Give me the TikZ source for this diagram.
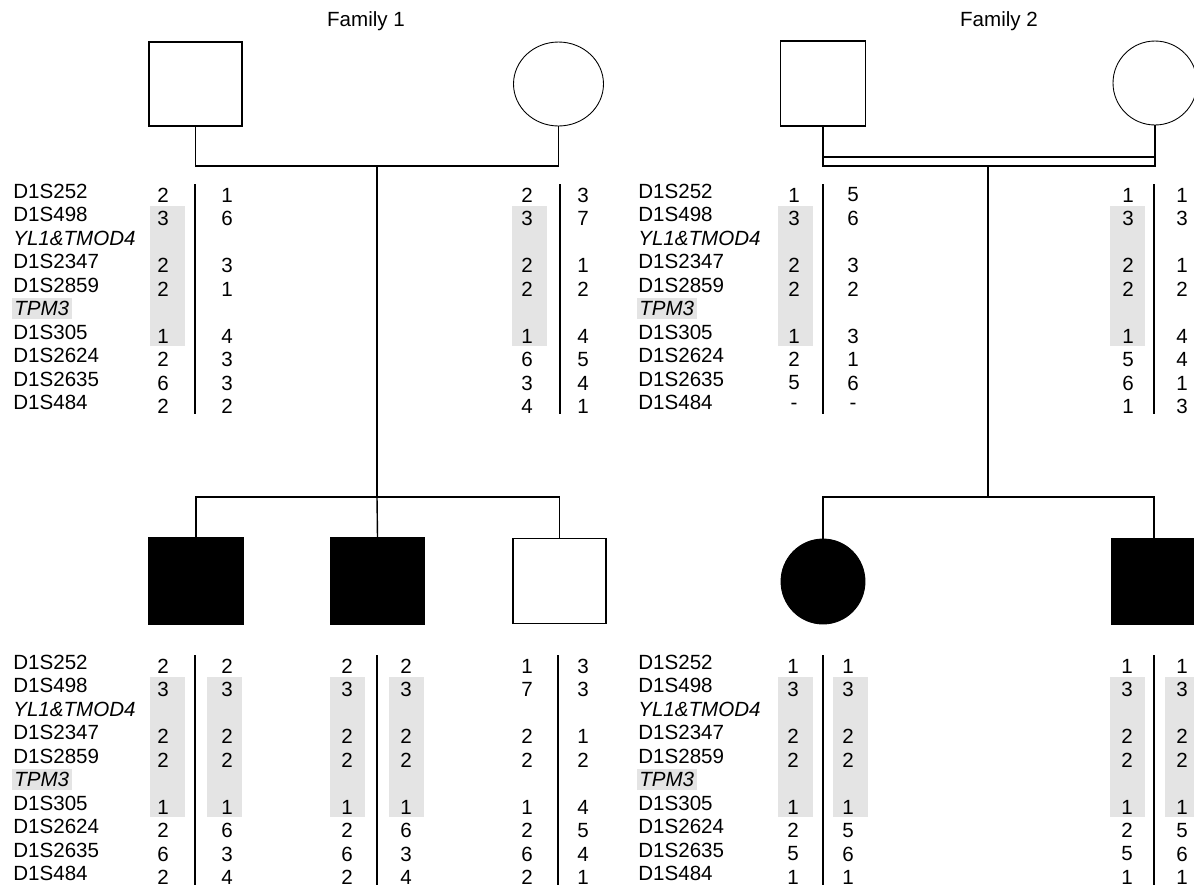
\documentclass[tikz,border=0pt]{standalone}
\usepackage{fontspec}
\setmainfont{Liberation Sans}
\usepackage{tikz}
\usetikzlibrary{positioning, shapes.geometric}
\usepackage{xcolor}
\definecolor{HlGrey}{HTML}{E4E4E4}

\newcommand{\pedfont}{\fontsize{11.7}{14}\selectfont}

\tikzset{
  male/.style={draw, rectangle, line width=0.8pt, inner sep=0pt},
  female/.style={draw, ellipse, line width=0.5pt, inner sep=0pt},
  affected/.style={fill=black},
  ped/.style={line width=0.8pt},
  sepbar/.style={line width=0.6pt},
  allele/.style={inner sep=0pt, anchor=center},
  marker/.style={inner sep=0pt, anchor=west},
  gene/.style={marker, font=\pedfont\itshape},
  hl/.style={fill=HlGrey},
}

% marker names: x, first row y, prefix
\newcommand{\markers}[3]{%
  \foreach \r/\m in {1/D1S252, 2/D1S498, 4/D1S2347, 5/D1S2859, 7/D1S305,
                     8/D1S2624, 9/D1S2635, 10/D1S484}
    \node[marker] (#3-m\r) at (#1, {#2-2+23.5*(\r-1)}) {\m};
  \node[gene] (#3-m3) at (#1, {#2-2+23.5*2}) {YL1\&TMOD4};
  \node[gene, fill=HlGrey, inner xsep=1.4pt, inner ysep=1.8pt] (#3-m6)
    at (#1-1.5, {#2-2+23.5*5}) {TPM3};
}
% haplotype pair: name, left col, bar x, right col, first row y, alleles
\newcommand{\haplo}[6]{%
  \foreach \r/\a/\b in {#6} {
    \node[allele] (#1-a\r) at (#2, {#5+2+23.5*(\r-1)}) {\a};
    \node[allele] (#1-b\r) at (#4, {#5+2+23.5*(\r-1)}) {\b};
  }
  \draw[sepbar] (#3, #5-9) -- (#3, #5+221);
}
% shared segment: left edge, first row y
\newcommand{\hlbox}[2]{\fill[hl] (#1, {#2+13}) rectangle ++(35, 139.5);}

\begin{document}
\begin{tikzpicture}[x=0.02cm, y=-0.02cm, font=\pedfont]
  \clip (0,0) rectangle (1194,890);

  % Family 1
  \node[anchor=base] (fam1) at (366,26) {Family 1};
  \node[male, minimum width=1.86cm, minimum height=1.68cm] (f1dad) at (195.5,84) {};
  \node[female, minimum width=1.8cm, minimum height=1.68cm] (f1mom) at (558.5,84) {};
  \coordinate (f1mar) at (377,166);
  \coordinate (f1sib) at (377,497);
  \node[male, affected, minimum width=1.88cm, minimum height=1.72cm] (f1c1) at (196,581) {};
  \node[male, affected, minimum width=1.88cm, minimum height=1.72cm] (f1c2) at (377.5,581) {};
  \node[male, minimum width=1.86cm, minimum height=1.7cm] (f1c3) at (559.5,581) {};
  \draw[ped] (f1dad.south) |- (f1mar) -| (f1mom.south);
  \draw[ped] (f1mar) -- (f1sib);
  \draw[ped] (f1c1.north) |- (f1sib) -| (f1c3.north);
  \draw[ped] (f1sib) -- (f1c2.north);

  % Family 2
  \node[anchor=base] (fam2) at (999,26) {Family 2};
  \node[male, minimum width=1.7cm, minimum height=1.7cm] (f2dad) at (823,83.5) {};
  \node[female, minimum width=1.68cm, minimum height=1.68cm] (f2mom) at (1155,83) {};
  \coordinate (f2mar) at (988,166);
  \coordinate (f2marup) at (988,157);
  \coordinate (f2sib) at (988,497);
  \node[female, affected, minimum width=1.68cm, minimum height=1.7cm] (f2c1) at (823,581.5) {};
  \node[male, affected, minimum width=1.7cm, minimum height=1.7cm] (f2c2) at (1154,581.5) {};
  \draw[ped] (f2dad.south) |- (f2mar) -| (f2mom.south);
  \draw[ped] (f2dad.south |- f2marup) -- (f2mom.south |- f2marup);
  \draw[ped] (f2mar) -- (f2sib);
  \draw[ped] (f2c1.north) |- (f2sib) -| (f2c2.north);

  % shared haplotype
  \hlbox{150}{193} \hlbox{512}{193} \hlbox{778}{193} \hlbox{1110}{193}
  \hlbox{150}{664} \hlbox{207}{664} \hlbox{330}{664} \hlbox{389}{664}
  \hlbox{778}{664} \hlbox{833}{664} \hlbox{1110}{664} \hlbox{1165}{664}

  % parents
  \markers{13}{193}{m1}
  \markers{638}{193}{m2}
  \haplo{h1dad}{163}{195}{227}{193}{1/2/1, 2/3/6, 4/2/3, 5/2/1, 7/1/4, 8/2/3, 9/6/3, 10/2/2}
  \haplo{h1mom}{527}{560}{583}{193}{1/2/3, 2/3/7, 4/2/1, 5/2/2, 7/1/4, 8/6/5, 9/3/4, 10/4/1}
  \haplo{h2dad}{794}{823}{853}{193}{1/1/5, 2/3/6, 4/2/3, 5/2/2, 7/1/3, 8/2/1, 9/5/6, 10/-/-}
  \haplo{h2mom}{1128}{1154}{1182}{193}{1/1/1, 2/3/3, 4/2/1, 5/2/2, 7/1/4, 8/5/4, 9/6/1, 10/1/3}

  % children
  \markers{13}{664}{m3}
  \markers{638}{664}{m4}
  \haplo{h1c1}{163}{195}{227}{664}{1/2/2, 2/3/3, 4/2/2, 5/2/2, 7/1/1, 8/2/6, 9/6/3, 10/2/4}
  \haplo{h1c2}{347}{377}{406}{664}{1/2/2, 2/3/3, 4/2/2, 5/2/2, 7/1/1, 8/2/6, 9/6/3, 10/2/4}
  \haplo{h1c3}{527}{558}{583}{664}{1/1/3, 2/7/3, 4/2/1, 5/2/2, 7/1/4, 8/2/5, 9/6/4, 10/2/1}
  \haplo{h2c1}{793}{823}{848}{664}{1/1/1, 2/3/3, 4/2/2, 5/2/2, 7/1/1, 8/2/5, 9/5/6, 10/1/1}
  \haplo{h2c2}{1127}{1154}{1182}{664}{1/1/1, 2/3/3, 4/2/2, 5/2/2, 7/1/1, 8/2/5, 9/5/6, 10/1/1}
\end{tikzpicture}
\end{document}
